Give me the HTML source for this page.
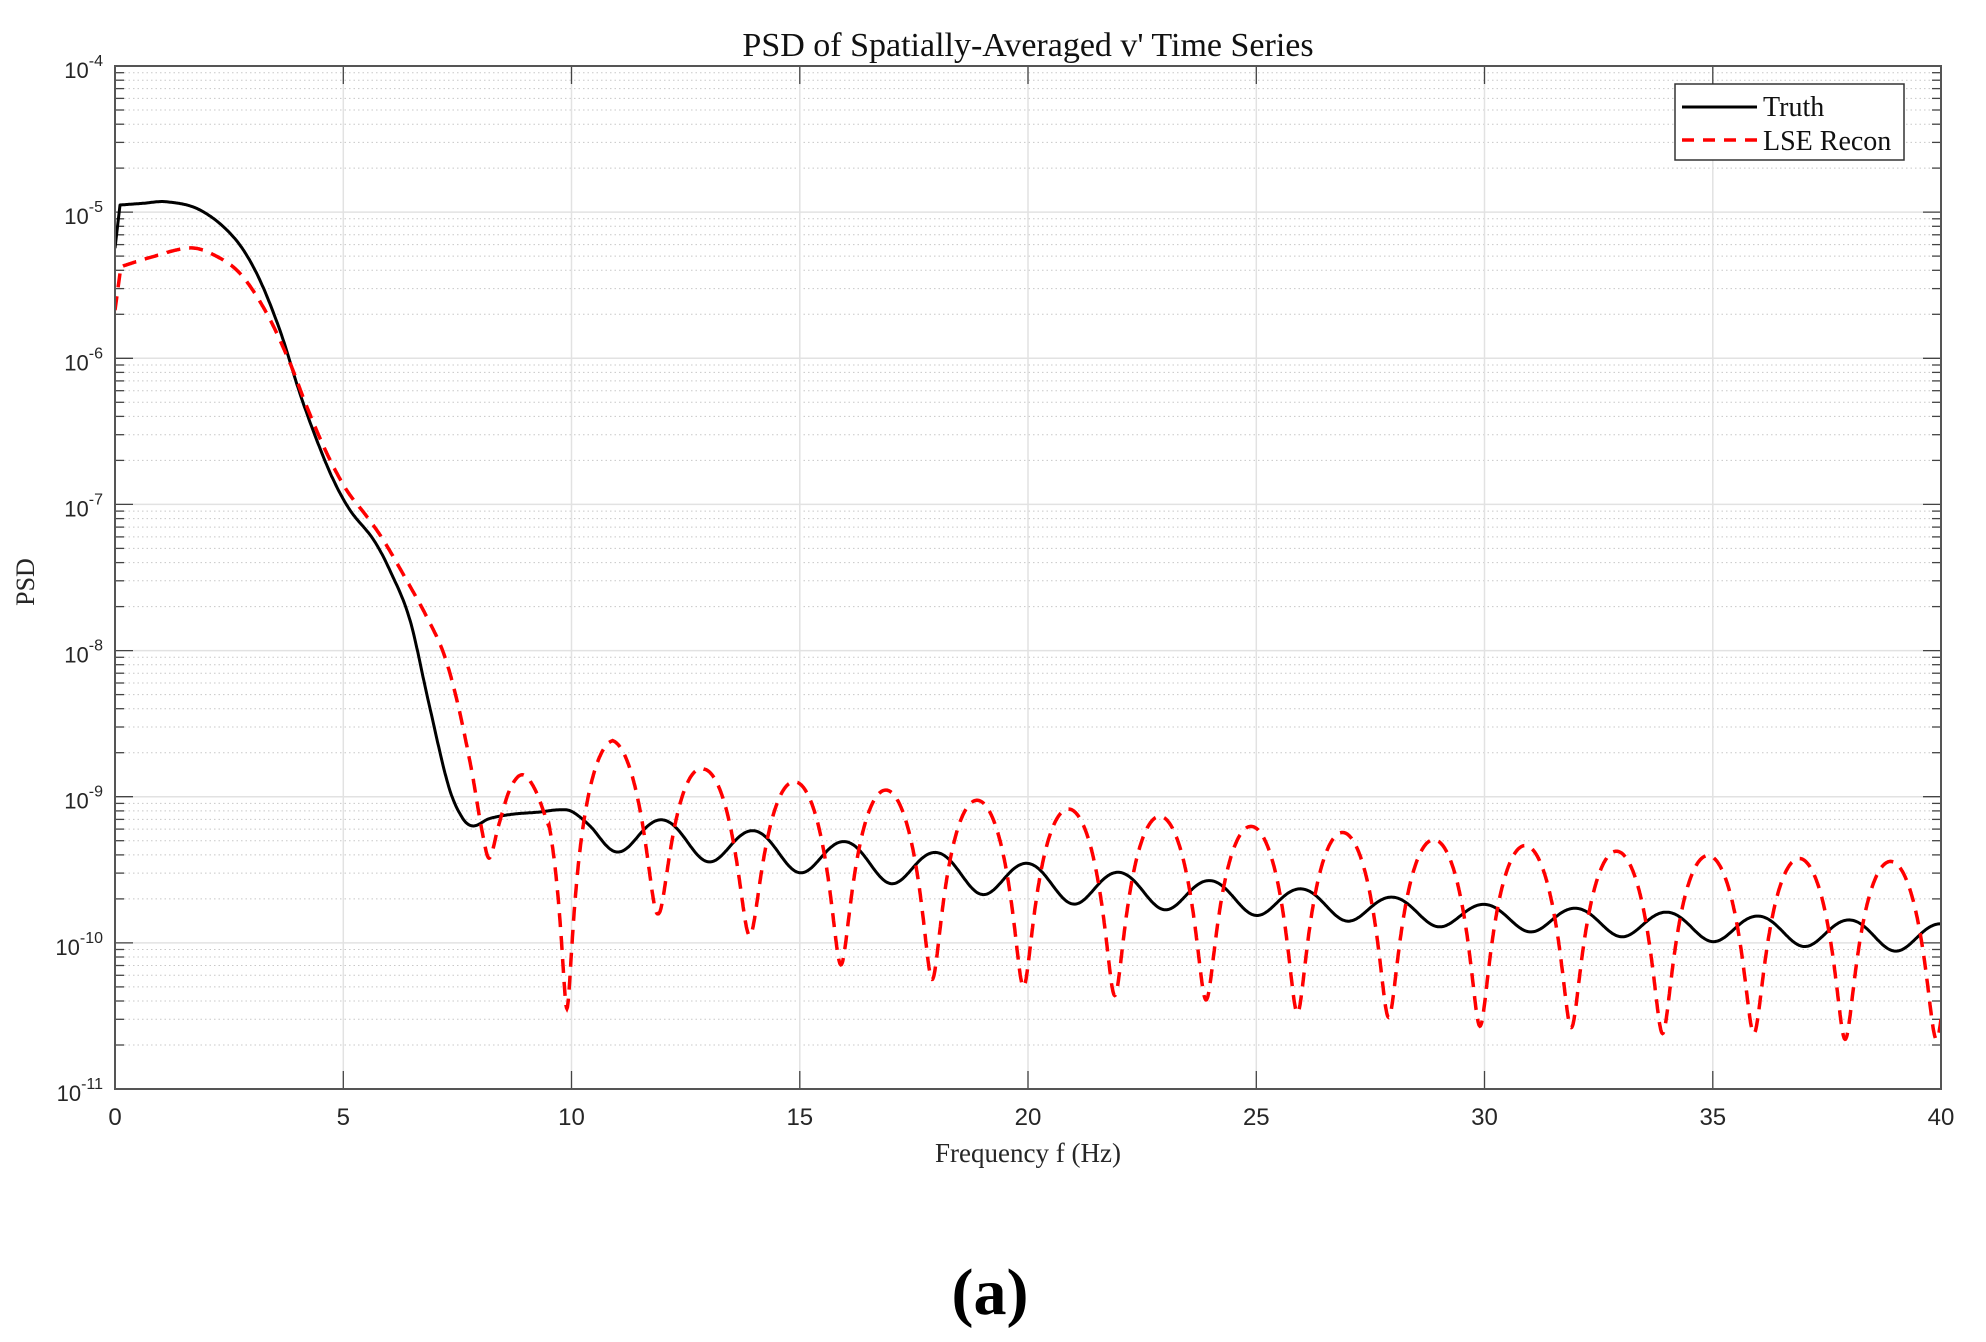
<!DOCTYPE html>
<html><head><meta charset="utf-8"><style>
html,body{margin:0;padding:0;background:#fff;}
svg{display:block;}
</style></head><body>
<svg id="s" width="1986" height="1342" xmlns="http://www.w3.org/2000/svg"></svg>
<script>
const L=115,R=1941,T=66,B=1089;
const X=f=>L+f*(R-L)/40, Y=lg=>T+(-4-lg)*(B-T)/7;
let h='';
h+='<rect width="1986" height="1342" fill="#fff"/>';
for(let d=-11;d<-4;d++){for(let k=2;k<10;k++){const y=Y(d+Math.log10(k)).toFixed(1);
h+=`<line x1="${L}" x2="${R}" y1="${y}" y2="${y}" stroke="#c8c8c8" stroke-width="1" stroke-dasharray="1.5,3"/>`;
h+=`<line x1="${L}" x2="${L+9}" y1="${y}" y2="${y}" stroke="#444" stroke-width="1.3"/><line x1="${R-9}" x2="${R}" y1="${y}" y2="${y}" stroke="#444" stroke-width="1.3"/>`;}}
for(let d=-11;d<=-4;d++){const y=Y(d).toFixed(1);
h+=`<line x1="${L}" x2="${R}" y1="${y}" y2="${y}" stroke="#e2e2e2" stroke-width="1.5"/>`;
h+=`<line x1="${L}" x2="${L+18}" y1="${y}" y2="${y}" stroke="#444" stroke-width="1.3"/><line x1="${R-18}" x2="${R}" y1="${y}" y2="${y}" stroke="#444" stroke-width="1.3"/>`;
h+=`<text x="${L-12}" y="${(+y+12).toFixed(1)}" text-anchor="end" font-family="Liberation Sans,sans-serif" font-size="22" fill="#262626">10<tspan font-size="16" dy="-12">${d}</tspan></text>`;}
for(let f=0;f<=40;f+=5){const x=X(f).toFixed(1);
h+=`<line x1="${x}" x2="${x}" y1="${T}" y2="${B}" stroke="#e2e2e2" stroke-width="1.5"/>`;
h+=`<line x1="${x}" x2="${x}" y1="${B-18}" y2="${B}" stroke="#444" stroke-width="1.3"/><line x1="${x}" x2="${x}" y1="${T}" y2="${T+18}" stroke="#444" stroke-width="1.3"/>`;
h+=`<text x="${x}" y="${B+36}" text-anchor="middle" font-family="Liberation Sans,sans-serif" font-size="24" fill="#262626">${f}</text>`;}
function lin(tab,f){if(f<=tab[0][0])return tab[0][1];for(let i=1;i<tab.length;i++){if(f<=tab[i][0]){const a=tab[i-1],b=tab[i];return a[1]+(b[1]-a[1])*(f-a[0])/(b[0]-a[0]);}}return tab[tab.length-1][1];}
function cr(p,f){let i=1;while(i<p.length-1&&f>p[i][0])i++;const p1=p[i-1],p2=p[i],p0=p[Math.max(0,i-2)],p3=p[Math.min(p.length-1,i+1)];
const t=(f-p1[0])/(p2[0]-p1[0]);const m1=(p2[1]-p0[1])/(p2[0]-p0[0]||1)*(p2[0]-p1[0]);const m2=(p3[1]-p1[1])/(p3[0]-p1[0]||1)*(p2[0]-p1[0]);
const t2=t*t,t3=t2*t;return (2*t3-3*t2+1)*p1[1]+(t3-2*t2+t)*m1+(-2*t3+3*t2)*p2[1]+(t3-t2)*m2;}
const bk=[[0.11,-4.951],[0.6,-4.94],[1.13,-4.929],[1.86,-4.985],[2.59,-5.168],[3.1,-5.417],[3.61,-5.806],[4.05,-6.24],[4.42,-6.56],[4.78,-6.83],[5.15,-7.04],[5.66,-7.24],[6.02,-7.45],[6.46,-7.79],[6.86,-8.34],[7.3,-8.92],[7.6,-9.14],[7.84,-9.2],[8.2,-9.15],[8.7,-9.12],[9.3,-9.105],[9.7,-9.09],[10,-9.1],[10.4,-9.2],[10.8,-9.34],[11.1,-9.38]];
const bc=[[10,-9.23],[11.5,-9.265],[20.5,-9.6],[29.5,-9.815],[38.5,-9.95],[40,-9.97]];
const ba=[[10,0.125],[20.5,0.125],[29.5,0.085],[38.5,0.1],[40,0.1]];
function truth(f){if(f<10.2)return cr(bk,f);const v=lin(bc,f)+lin(ba,f)*Math.cos(Math.PI*(f-12)-0.08*Math.sin(Math.PI*(f-12)));
if(f<10.9){const w=(f-10.2)/0.7;const s=w*w*(3-2*w);return (1-s)*cr(bk,f)+s*v;}return v;}
let pb=`M${X(0)},${Y(-5.247).toFixed(1)}`;
for(let f=0.11;f<=40.0001;f+=0.02)pb+=`L${X(f).toFixed(1)},${Y(truth(f)).toFixed(1)}`;
const rk=[[0.13,-5.373],[0.77,-5.31],[1.64,-5.245],[2.15,-5.29],[2.74,-5.42],[3.32,-5.69],[3.83,-6.03],[4.2,-6.33],[4.64,-6.65],[5.07,-6.9],[5.51,-7.08],[5.87,-7.24],[6.39,-7.52],[6.83,-7.77],[7.2,-8.02],[7.49,-8.34],[7.8,-8.8],[8.05,-9.25],[8.2,-9.42],[8.4,-9.2],[8.65,-8.95],[8.92,-8.85],[9.2,-8.95],[9.5,-9.2]];
const rp=[[9.5,-8.74],[10.9,-8.63],[12.9,-8.85],[14.9,-8.93],[16.9,-8.98],[18.9,-9.05],[20.9,-9.11],[22.9,-9.16],[24.9,-9.23],[26.9,-9.27],[28.9,-9.32],[30.9,-9.36],[32.9,-9.4],[34.9,-9.43],[36.9,-9.45],[38.9,-9.47],[40,-9.48]];
const rf=[[9.9,-10.45],[11.9,-9.8],[13.9,-9.95],[15.9,-10.15],[17.9,-10.25],[19.9,-10.3],[21.9,-10.36],[23.9,-10.39],[25.9,-10.48],[27.9,-10.51],[29.9,-10.57],[31.9,-10.58],[33.9,-10.62],[35.9,-10.62],[37.9,-10.66],[40,-10.66]];
function recon(f){if(f<9.5)return cr(rk,f);const s=Math.sin(Math.PI*(f-9.9)/2);return Math.log10(Math.pow(10,lin(rp,f))*s*s+Math.pow(10,lin(rf,f)));}
let pr=`M${X(0)},${Y(-5.67).toFixed(1)}`;
for(let f=0.13;f<=40.0001;f+=0.01)pr+=`L${X(f).toFixed(1)},${Y(recon(f)).toFixed(1)}`;
h+=`<defs><clipPath id="c"><rect x="${L}" y="${T}" width="${R-L}" height="${B-T}"/></clipPath></defs>`;
h+=`<g clip-path="url(#c)"><path d="${pb}" fill="none" stroke="#000" stroke-width="3" stroke-linejoin="round"/>`;
h+=`<path d="${pr}" fill="none" stroke="#ff0000" stroke-width="3.5" stroke-dasharray="14,9"/></g>`;
h+=`<rect x="${L}" y="${T}" width="${R-L}" height="${B-T}" fill="none" stroke="#555" stroke-width="2"/>`;
h+=`<rect x="1675" y="84" width="229" height="76" fill="#fff" stroke="#333" stroke-width="1.5"/>`;
h+=`<line x1="1682" x2="1757" y1="107" y2="107" stroke="#000" stroke-width="3"/>`;
h+=`<line x1="1682" x2="1757" y1="140" y2="140" stroke="#ff0000" stroke-width="3.5" stroke-dasharray="12,9"/>`;
h+=`<text x="1763" y="116" font-family="Liberation Serif,serif" font-size="28" fill="#111">Truth</text>`;
h+=`<text x="1763" y="150" font-family="Liberation Serif,serif" font-size="28" fill="#111">LSE Recon</text>`;
h+=`<text x="1028" y="56" text-anchor="middle" font-family="Liberation Serif,serif" font-size="34" fill="#111">PSD of Spatially-Averaged v' Time Series</text>`;
h+=`<text x="1028" y="1162" text-anchor="middle" font-family="Liberation Serif,serif" font-size="27" fill="#262626">Frequency f (Hz)</text>`;
h+=`<text x="34" y="582" text-anchor="middle" transform="rotate(-90 34 582)" font-family="Liberation Serif,serif" font-size="26" fill="#262626">PSD</text>`;
h+=`<text x="990" y="1314" text-anchor="middle" font-family="Liberation Serif,serif" font-weight="bold" font-size="66" fill="#000">(a)</text>`;
document.getElementById('s').innerHTML=h;
</script>
</body></html>
